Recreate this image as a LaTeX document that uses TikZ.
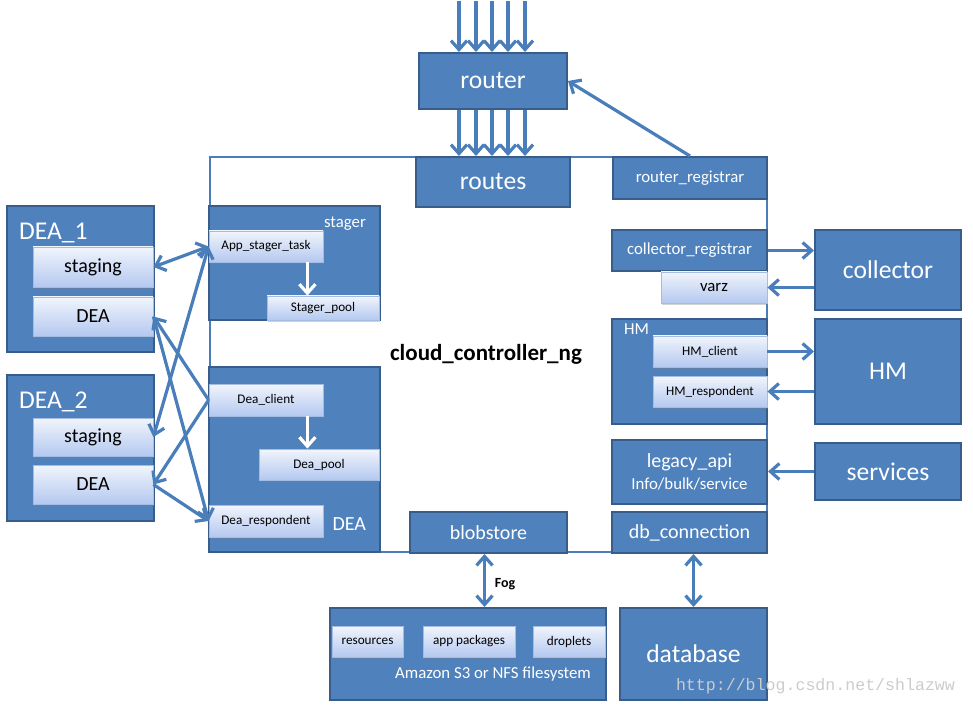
\documentclass[tikz,border=0pt]{standalone}
\usepackage{fontspec}
\setmainfont{Carlito}
\newfontfamily\wmfont{Liberation Mono}
\usepackage{tikz}
\usetikzlibrary{positioning, shadows, arrows.meta}
\definecolor{ccblue}{RGB}{79,129,189}
\definecolor{ccedge}{RGB}{56,93,138}
\definecolor{arrblue}{RGB}{74,126,187}
\definecolor{lttop}{RGB}{241,245,252}
\definecolor{ltbot}{RGB}{180,200,240}
\definecolor{ltedge}{RGB}{165,188,226}
\newcommand{\hugeTxt}{\fontsize{12.8}{14}\selectfont}
\newcommand{\midTxt}{\fontsize{10}{11.5}\selectfont}
\newcommand{\smallTxt}{\fontsize{8.4}{10}\selectfont}
\newcommand{\tinyTxt}{\fontsize{6.6}{8}\selectfont}
\tikzstyle{frameBox}=[draw=arrblue, fill=white, line width=1.2pt, inner sep=0pt]
\tikzstyle{darkBox}=[rectangle, draw=ccedge, fill=ccblue, line width=1pt, text=white, inner sep=0pt]
\tikzstyle{lightBox}=[rectangle, draw=ltedge, line width=0.4pt, top color=lttop, bottom color=ltbot,
  text=black, inner sep=0pt, font=\tinyTxt,
  drop shadow={opacity=0.35, shadow xshift=0.6pt, shadow yshift=-0.8pt}]
\tikzstyle{flowArrow}=[->, line width=1.6pt, >={Straight Barb[length=4.5pt,width=8pt]}, draw=arrblue]
\tikzstyle{bothArrow}=[flowArrow, <->]
\tikzstyle{whiteArrow}=[flowArrow, draw=white]

\begin{document}
\begin{tikzpicture}[x=0.5pt, y=-0.5pt]
  \useasboundingbox (0,0) rectangle (973,705);
  \node[frameBox, minimum width=278.5pt, minimum height=197.5pt] (cc) at (488.5,354.5) {};
  \node[font=\fontsize{11.5}{13}\selectfont\bfseries] (ccname) at (486,354) {cloud\_controller\_ng};

  % router and registrar
  \node[darkBox, minimum width=74pt, minimum height=28pt, font=\hugeTxt] (router) at (493,81) {router};
  \node[darkBox, minimum width=77pt, minimum height=25pt, font=\hugeTxt] (routes) at (493,182) {routes};
  \node[darkBox, minimum width=77pt, minimum height=21pt, font=\smallTxt] (rreg) at (690,178) {router\_registrar};

  % stager and DEA inside the controller
  \node[darkBox, minimum width=85.5pt, minimum height=57pt] (stager) at (294.5,263) {};
  \node[text=white, font=\smallTxt, anchor=east] (stagerlbl) at (373,224) {stager};
  \node[lightBox, minimum width=57pt, minimum height=15.5pt] (ast) at (266,246.5) {App\_stager\_task};
  \node[lightBox, minimum width=56pt, minimum height=12pt] (spool) at (323,308) {Stager\_pool};
  \node[darkBox, minimum width=85.5pt, minimum height=92.5pt] (deablk) at (294.5,459.5) {};
  \node[text=white, font=\midTxt, anchor=east] (dealbl) at (373,524) {DEA};
  \node[lightBox, minimum width=57pt, minimum height=16pt] (dclient) at (266,400) {Dea\_client};
  \node[lightBox, minimum width=60pt, minimum height=15.5pt] (dpool) at (319,464.5) {Dea\_pool};
  \node[lightBox, minimum width=57pt, minimum height=16pt] (dresp) at (266,521) {Dea\_respondent};

  % DEA_1 and DEA_2
  \node[darkBox, minimum width=73.5pt, minimum height=73pt] (dea1box) at (80.5,279) {};
  \node[text=white, font=\hugeTxt, anchor=west] (dea1lbl) at (12,233) {DEA\_1};
  \node[lightBox, minimum width=60pt, minimum height=20pt, font=\midTxt] (staging1) at (93,267) {staging};
  \node[lightBox, minimum width=60pt, minimum height=19.5pt, font=\midTxt] (dea1) at (93,316.5) {DEA};
  \node[darkBox, minimum width=73.5pt, minimum height=73pt] (dea2box) at (80.5,448) {};
  \node[text=white, font=\hugeTxt, anchor=west] (dea2lbl) at (12,402) {DEA\_2};
  \node[lightBox, minimum width=60pt, minimum height=19pt, font=\midTxt] (staging2) at (93,437) {staging};
  \node[lightBox, minimum width=60pt, minimum height=19.5pt, font=\midTxt] (dea2) at (93,484.5) {DEA};

  % right column
  \node[darkBox, minimum width=77.5pt, minimum height=20.5pt, font=\smallTxt] (creg) at (689.5,250.5) {collector\_registrar};
  \node[lightBox, minimum width=53pt, minimum height=15.5pt, font=\smallTxt] (varz) at (714,287.5) {varz};
  \node[darkBox, minimum width=73pt, minimum height=40pt, font=\hugeTxt] (collector) at (888,270) {collector};
  \node[darkBox, minimum width=77.5pt, minimum height=52.5pt] (hmblk) at (689.5,371.5) {};
  \node[text=white, font=\smallTxt, anchor=west] (hmlbl) at (617,329) {HM};
  \node[lightBox, minimum width=57pt, minimum height=15.5pt] (hmc) at (710,351.5) {HM\_client};
  \node[lightBox, minimum width=57pt, minimum height=15.5pt] (hmr) at (710,391.5) {HM\_respondent};
  \node[darkBox, minimum width=73pt, minimum height=52.5pt, font=\hugeTxt] (hm) at (888,371.5) {HM};
  \node[darkBox, minimum width=77.5pt, minimum height=32pt, align=center] (legacy) at (689.5,472)
    {{\midTxt legacy\_api}\\[-1pt]{\smallTxt Info/bulk/service}};
  \node[darkBox, minimum width=73pt, minimum height=28.5pt, font=\hugeTxt] (services) at (888,471.5) {services};
  \node[darkBox, minimum width=77.5pt, minimum height=20.5pt, font=\midTxt] (dbconn) at (689.5,532.5) {db\_connection};

  % storage
  \node[darkBox, minimum width=78.5pt, minimum height=20.5pt, font=\midTxt] (blob) at (488.5,532.5) {blobstore};
  \node[darkBox, minimum width=138pt, minimum height=46pt] (s3) at (468,654) {};
  \node[text=white, font=\smallTxt] (s3lbl) at (493,674) {Amazon S3 or NFS filesystem};
  \node[lightBox, minimum width=35.5pt, minimum height=15.5pt] (res) at (367.5,641.5) {resources};
  \node[lightBox, minimum width=46pt, minimum height=15.5pt] (apppkg) at (469,641.5) {app packages};
  \node[lightBox, minimum width=36pt, minimum height=15.5pt] (drop) at (569,641.5) {droplets};
  \node[darkBox, minimum width=73.5pt, minimum height=46pt, font=\hugeTxt] (database) at (693.5,654) {database};
  \node[font=\fontsize{7}{8}\selectfont\bfseries] (fog) at (505,584) {Fog};
  \node[text=black!20, font=\wmfont\fontsize{8.3}{9}\selectfont, anchor=east] (wm) at (962,686) {http://blog.csdn.net/shlazww};

  % connectors
  \foreach \x [count=\i] in {459,476,492,508,525} {
    \coordinate (in\i) at (\x,1);
    \draw[flowArrow] (in\i) -- (in\i |- router.north);
    \draw[flowArrow] (in\i |- router.south) -- (in\i |- routes.north);
  }
  \draw[flowArrow] (rreg.north) -- (router.east);
  \draw[whiteArrow] ([xshift=-8pt]ast.south east) -- ([xshift=-8pt]ast.south east |- spool.north);
  \draw[whiteArrow] ([xshift=-8pt]dclient.south east) -- ([xshift=-8pt]dclient.south east |- dpool.north);
  \draw[bothArrow] (staging1.east) -- (ast.west);
  \draw[bothArrow] (ast.west) -- (staging2.east);
  \foreach \d in {dea1,dea2} {
    \draw[flowArrow] (dclient.west) -- (\d.east);
    \draw[flowArrow] (\d.east) -- (dresp.west);
  }
  \draw[flowArrow] (creg.east) -- (creg.east -| collector.west);
  \draw[flowArrow] (varz.east -| collector.west) -- (varz.east);
  \draw[flowArrow] (hmc.east) -- (hmc.east -| hm.west);
  \draw[flowArrow] (hmr.east -| hm.west) -- (hmr.east);
  \draw[flowArrow] (services.west) -- (services.west -| legacy.east);
  \draw[bothArrow] ([xshift=-2pt]blob.south) -- ([xshift=-2pt]blob.south |- s3.north);
  \draw[bothArrow] (database.north) -- (database.north |- dbconn.south);
\end{tikzpicture}
\end{document}
